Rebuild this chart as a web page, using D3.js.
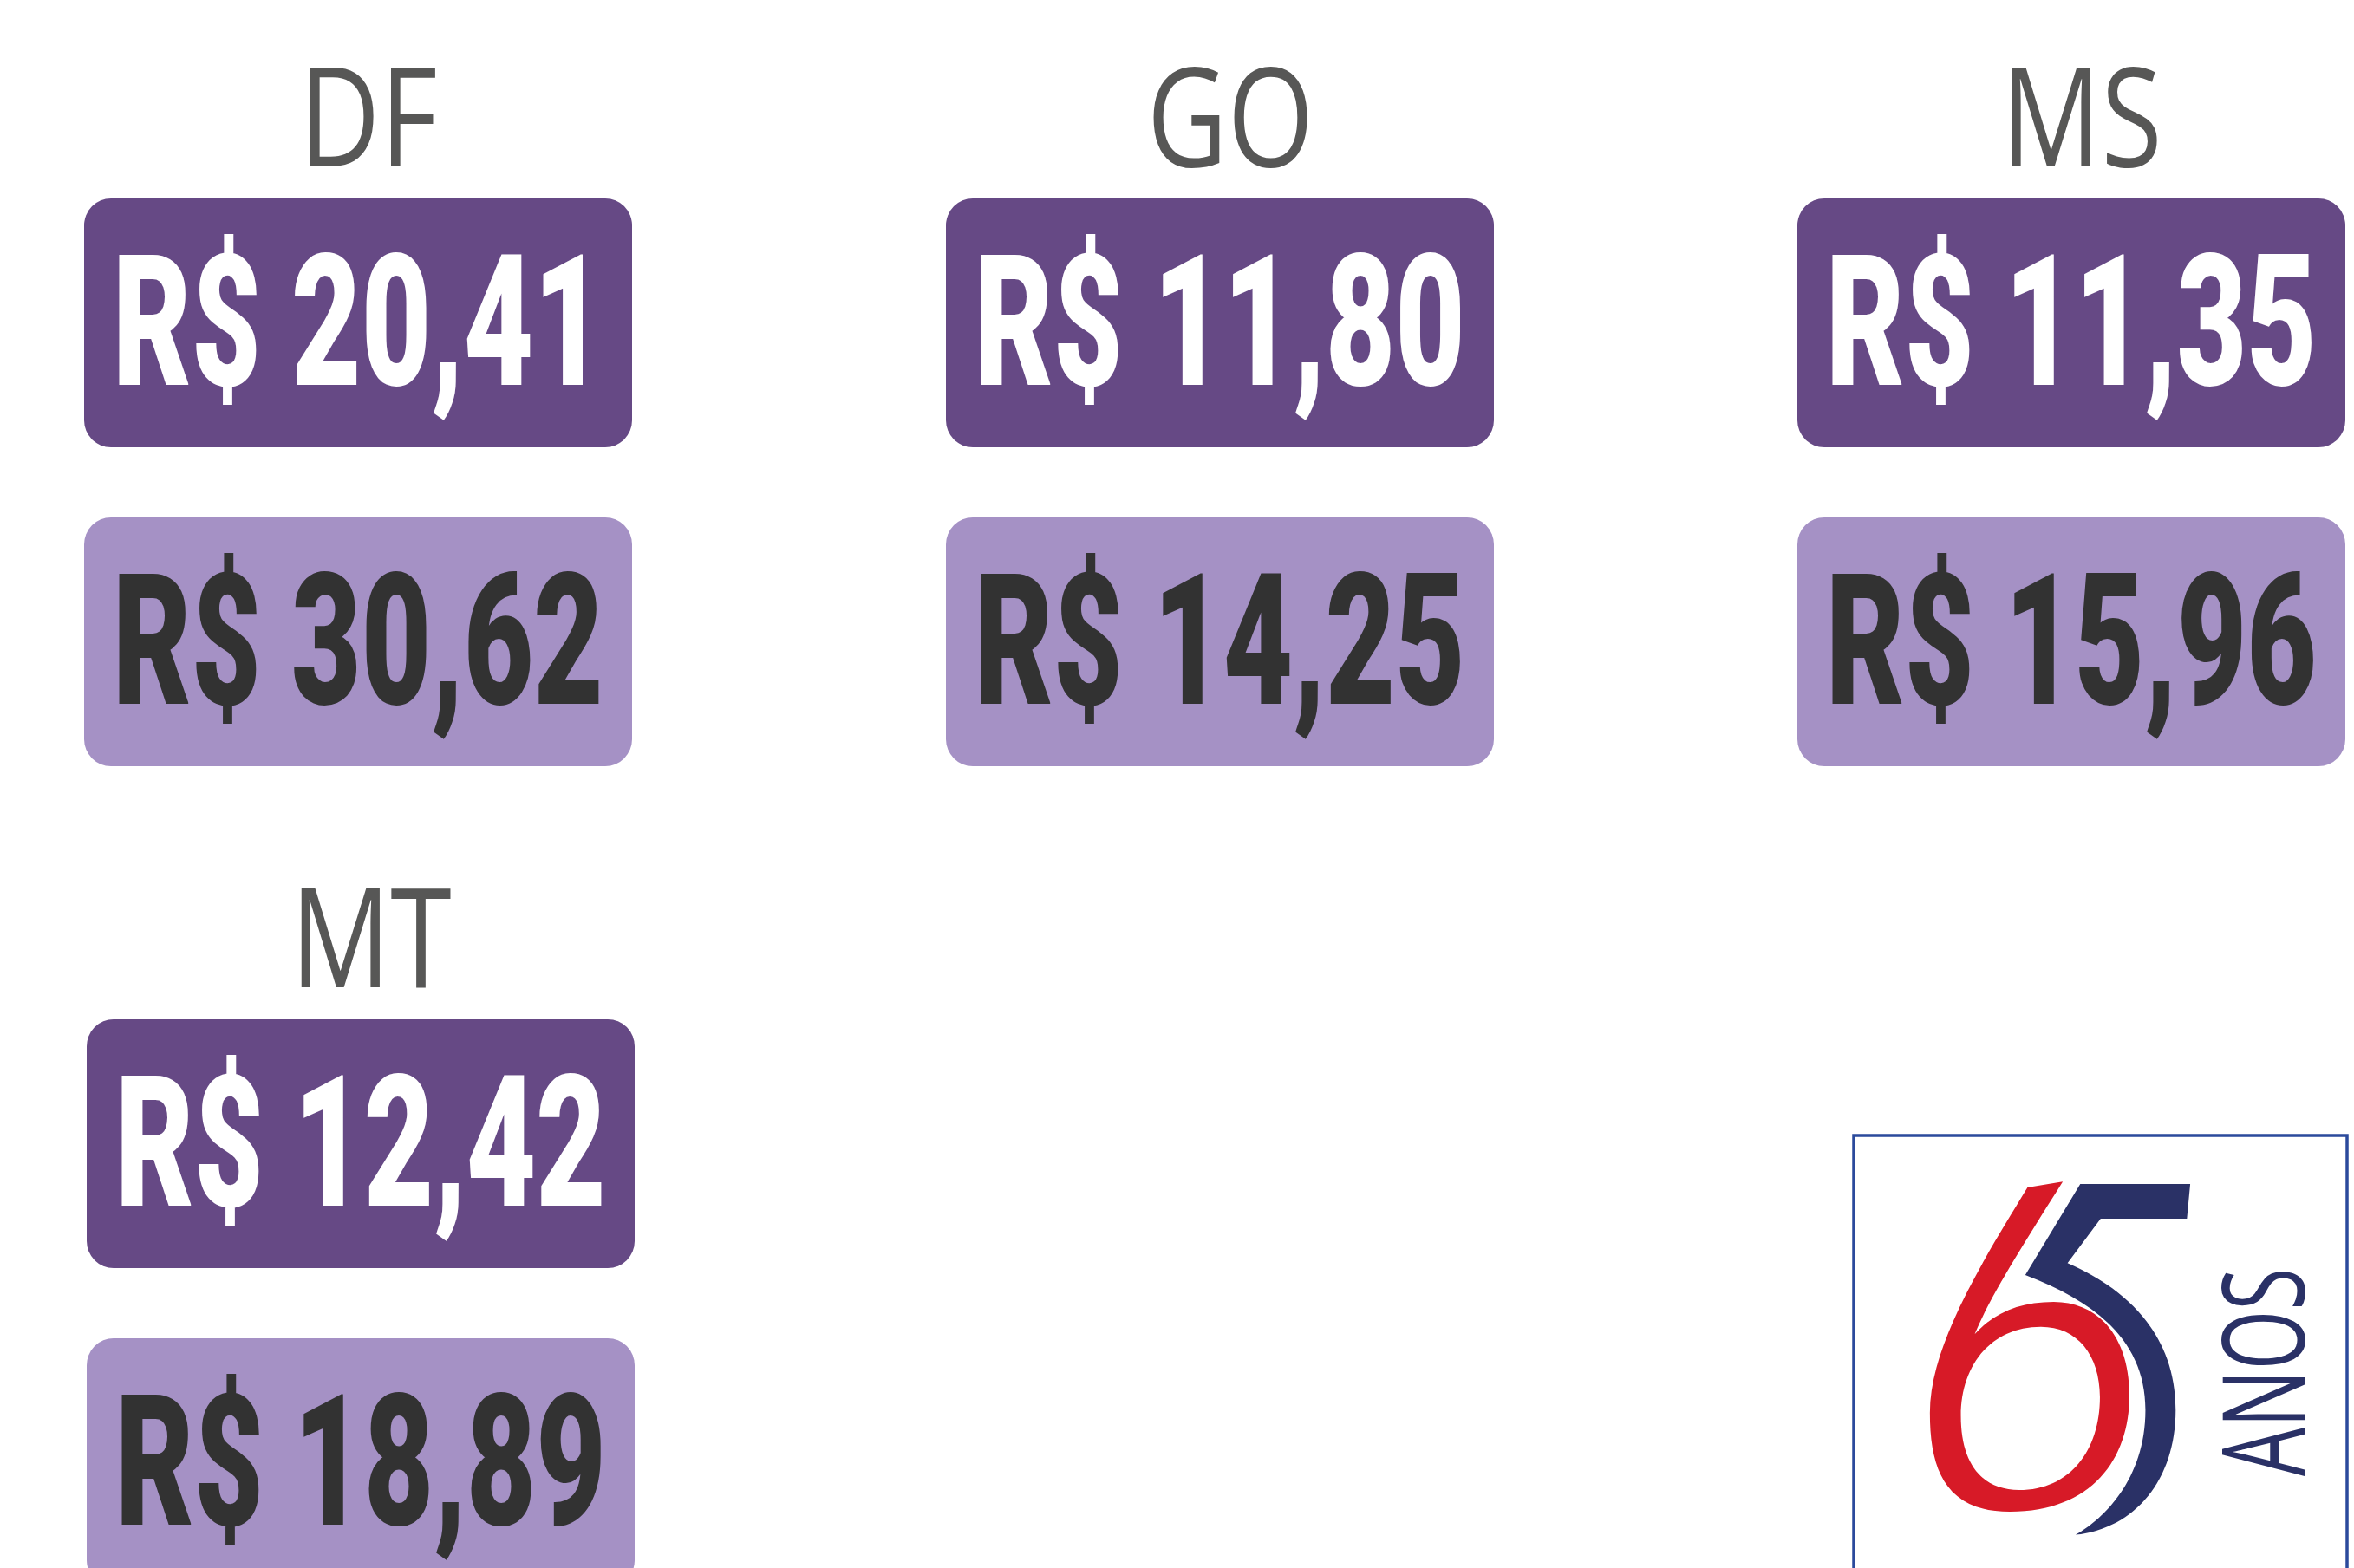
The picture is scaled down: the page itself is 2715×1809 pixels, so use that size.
<!DOCTYPE html>
<html>
<head>
<meta charset="utf-8">
<script src="https://cdn.jsdelivr.net/npm/d3@7"></script>
<style>
  body { margin: 0; background: #fff; }
</style>
</head>
<body>
<div id="painel"></div>
<script>
const estados = ['DF', 'GO', 'MS', 'MT'];
const valoresEscuro = [20.41, 11.80, 11.35, 12.42];
const valoresClaro = [30.62, 14.25, 15.96, 18.89];

const width = 2715;
const height = 1809;
const boxW = 632;
const boxH = 287;
const passoLinha = 368;
const larguraTexto = 566;

const br = d3.formatLocale({ decimal: ',', thousands: '.', grouping: [3], currency: ['R$ ', ''] });
const moeda = br.format('$.2f');

const svg = d3.select('#painel').append('svg')
  .attr('width', width)
  .attr('height', height);

svg.append('rect').attr('width', width).attr('height', height).attr('fill', '#fff');

// colunas e linhas do painel
const col = d3.scaleOrdinal().domain([0, 1, 2]).range([97, 1091, 2073]);
const lin = d3.scaleOrdinal().domain([0, 1]).range([229, 1176]);

const dados = estados.map((e, i) => ({
  estado: e,
  v1: valoresEscuro[i],
  v2: valoresClaro[i],
  x: col(i % 3) + (i >= 3 ? 3 : 0),
  y: lin(Math.floor(i / 3))
}));

const cel = svg.selectAll('g.cel')
  .data(dados)
  .enter().append('g')
    .attr('class', 'cel')
    .attr('transform', d => `translate(${d.x}, ${d.y})`);

cel.append('text')
  .attr('transform', `translate(${boxW / 2 + 12}, -37) scale(0.8, 1)`)
  .attr('text-anchor', 'middle')
  .attr('font-family', 'Open Sans')
  .attr('font-size', 160)
  .attr('fill', '#575756')
  .text(d => d.estado);

const caixas = [
  { campo: 'v1', dy: 0, fundo: '#664985', cor: '#ffffff' },
  { campo: 'v2', dy: passoLinha, fundo: '#a591c5', cor: '#323232' }
];

caixas.forEach(c => {
  cel.append('rect')
    .attr('x', 0)
    .attr('y', c.dy)
    .attr('width', boxW)
    .attr('height', boxH)
    .attr('rx', 31)
    .attr('fill', c.fundo);

  cel.append('text')
    .attr('text-anchor', 'middle')
    .attr('font-family', 'Roboto')
    .attr('font-weight', 900)
    .attr('font-size', 212)
    .attr('fill', c.cor)
    .text(d => moeda(d[c.campo]))
    .each(function () {
      // fonte condensada: comprime na horizontal ate a largura da caixa
      const k = larguraTexto / this.getComputedTextLength();
      d3.select(this).attr('transform', `translate(${boxW / 2}, ${c.dy + 215}) scale(${k}, 1)`);
    });
});

// selo 65 anos
const selo = svg.append('g');
selo.append('rect')
  .attr('x', 2138).attr('y', 1310)
  .attr('width', 569).attr('height', 560)
  .attr('fill', 'none')
  .attr('stroke', '#2b4a9c')
  .attr('stroke-width', 3.5);

const logo = selo.append('g')
  .attr('transform', 'translate(2060, 1290) scale(0.4199, 0.3333)');

logo.append('path')
  .attr('fill', '#2a3166')
  .attr('d', 'M808,228 L1110,228 L1101,348 L864,348 L773,502 C880,560 1070,700 1070,1010 C1070,1250 960,1420 795,1442 C870,1390 987,1250 987,1010 C987,780 860,640 657,543 Z');

logo.append('path')
  .attr('fill', '#d71a27')
  .attr('fill-rule', 'evenodd')
  .attr('d', 'M663,240 C620,330 580,410 545,490 C470,660 395,850 395,1020 C395,1220 440,1362 615,1362 C840,1362 943,1180 943,960 C943,760 860,636 735,636 C640,636 570,675 518,748 C560,620 640,460 760,220 Z ' +
    'M700,722 C560,722 480,860 480,1030 C480,1200 540,1287 640,1287 C780,1287 862,1150 862,965 C862,820 800,722 700,722 Z');

selo.append('text')
  .attr('transform', 'translate(2658, 1583) rotate(-90)')
  .attr('text-anchor', 'middle')
  .attr('font-family', 'Open Sans')
  .attr('font-size', 131)
  .attr('textLength', 240)
  .attr('lengthAdjust', 'spacingAndGlyphs')
  .attr('fill', '#2a3166')
  .text('ANOS');
</script>
</body>
</html>
